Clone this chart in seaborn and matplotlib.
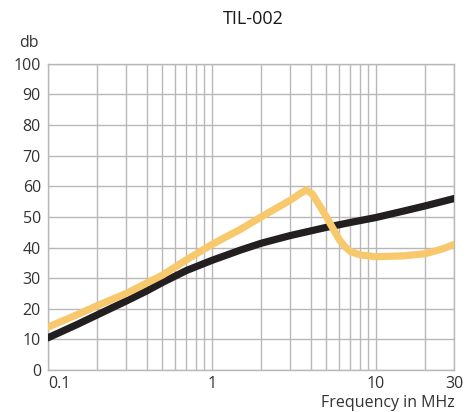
import matplotlib
matplotlib.use("Agg")
import matplotlib.pyplot as plt
import matplotlib.ticker as mticker
import pandas as pd
import seaborn as sns

# values
freq_black = [0.1, 0.15, 0.2, 0.3, 0.4, 0.5, 0.7, 1, 1.5, 2, 3, 5, 7, 10, 15, 20, 30]
db_black = [10.5, 14.8, 18, 22.5, 25.8, 28.6, 32.5, 35.8, 39.2, 41.4, 43.9, 46.6, 48.2, 49.8, 52, 53.6, 56]

freq_yellow = [0.1, 0.15, 0.2, 0.3, 0.5, 0.7, 0.9, 1, 1.5, 2, 2.5, 3, 3.4, 3.75, 4.1, 4.5, 5, 5.5, 6, 6.5, 7, 8, 10, 15, 20, 25, 30]
db_yellow = [14, 18, 21, 25, 31, 36, 39.5, 41, 46, 50, 53, 55.4, 57.4, 58.8, 57.5, 54, 50, 46, 42.5, 40.2, 38.7, 37.6, 37, 37.3, 38, 39.4, 41]

x_ticks = [0.1, 1, 10, 30]
x_labels = ["0.1", "1", "10", "30"]
y_ticks = list(range(0, 101, 10))

black = pd.DataFrame({"freq": freq_black, "db": db_black})
yellow = pd.DataFrame({"freq": freq_yellow, "db": db_yellow})

sns.set_style("white")
plt.rcParams["font.family"] = ["Open Sans", "DejaVu Sans"]

fig = plt.figure(figsize=(4.74, 4.12), dpi=100)
ax = fig.add_axes([0.101, 0.102, 0.857, 0.743])

sns.lineplot(data=black, x="freq", y="db", color="#231f20", linewidth=5.2, ax=ax,
             solid_capstyle="round", solid_joinstyle="round", zorder=3)
sns.lineplot(data=yellow, x="freq", y="db", color="#f8c96c", linewidth=5.2, ax=ax,
             solid_capstyle="round", solid_joinstyle="round", zorder=4)

ax.set_xscale("log")
ax.set_xlim(0.1, 30)
ax.set_ylim(0, 100)
ax.xaxis.set_minor_locator(mticker.LogLocator(base=10, subs=range(2, 10)))
ax.xaxis.set_minor_formatter(mticker.NullFormatter())
ax.set_xticks(x_ticks)
ax.set_xticklabels(x_labels)
ax.set_yticks(y_ticks)

ax.grid(True, which="both", axis="x", color="#b8b8b8", linewidth=1)
ax.grid(True, which="major", axis="y", color="#b8b8b8", linewidth=1)
for s in ax.spines.values():
    s.set_color("#b8b8b8")
    s.set_linewidth(1)

ax.tick_params(axis="both", which="both", length=0, labelsize=11.5, labelcolor="#333333")
ax.tick_params(axis="x", pad=4)
ax.tick_params(axis="y", pad=5)
labs = ax.get_xticklabels()
labs[0].set_horizontalalignment("left")

ax.set_xlabel("")
ax.set_ylabel("")
fig.text(0.535, 0.955, "TIL-002", ha="center", va="center", fontsize=13, color="#1a1a1a")
fig.text(0.06, 0.895, "db", ha="center", va="center", fontsize=11.5, color="#333333")
fig.text(0.96, 0.022, "Frequency in MHz", ha="right", va="center", fontsize=11.5, color="#333333")

fig.savefig("out.png", dpi=100)
